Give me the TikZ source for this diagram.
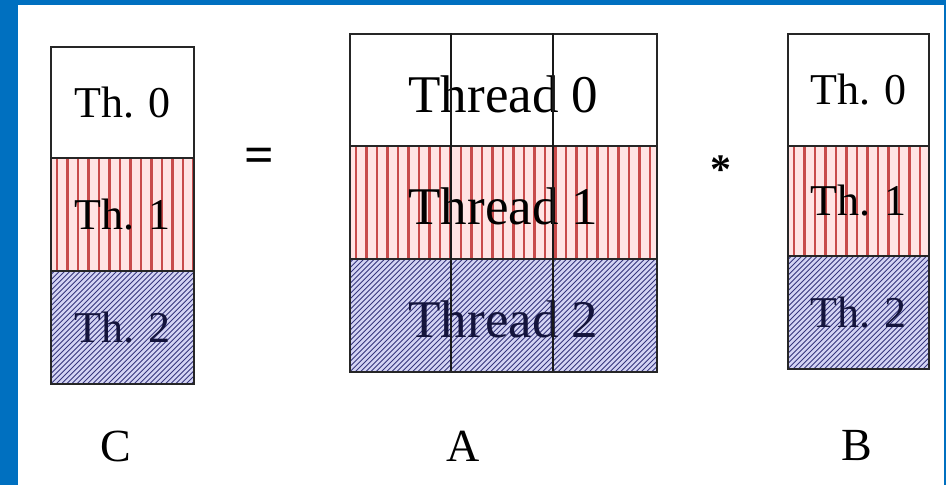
\documentclass[tikz,border=0pt]{standalone}
\usepackage{fontspec}
\setmainfont{Liberation Serif}
\definecolor{frameblue}{RGB}{0,112,192}
\definecolor{pinkbg}{RGB}{255,228,228}
\definecolor{redline}{RGB}{200,75,75}
\definecolor{bluebg}{RGB}{212,212,244}
\definecolor{navyline}{RGB}{55,55,125}
\definecolor{navytext}{RGB}{20,20,60}
\tikzset{
  cell/.style={draw=black!85, line width=1.8pt, inner sep=0pt, anchor=north west},
  stripes/.style={fill=pinkbg, path picture={
      \foreach \k in {0,...,32}{
        \draw[redline, line width=2.2pt]
          ([xshift=\k*10.5pt+6pt]path picture bounding box.south west) --
          ([xshift=\k*10.5pt+6pt]path picture bounding box.north west);}}},
  hatch/.style={fill=bluebg, path picture={
      \foreach \k in {0,...,100}{
        \draw[navyline, line width=0.9pt]
          ([xshift=\k*5.2pt-130pt]path picture bounding box.south west) -- ++(130pt,130pt);}}},
  smalltxt/.style={font=\fontsize{44}{50}\selectfont},
  bigtxt/.style={font=\fontsize{53}{60}\selectfont, yshift=-4pt},
  lbl/.style={font=\fontsize{46}{52}\selectfont},
  divider/.style={draw=black!90, line width=2.2pt}
}
\begin{document}
\begin{tikzpicture}[x=1pt,y=-1pt]
\useasboundingbox (0,0) rectangle (946,485);
\fill[white] (0,0) rectangle (946,485);
\fill[frameblue] (0,0) rectangle (18,485);
\fill[frameblue] (0,0) rectangle (946,5);
\fill[frameblue] (944,0) rectangle (946,485);

% Matrix C
\node[cell, minimum width=143pt, minimum height=111pt] (c0) at (50,46) {};
\node[cell, stripes, minimum width=143pt, minimum height=113pt] (c1) at (50,157) {};
\node[cell, hatch, minimum width=143pt, minimum height=113pt] (c2) at (50,270) {};
\node[smalltxt] (tc0) at (c0.center) {Th. 0};
\node[smalltxt] (tc1) at (c1.center) {Th. 1};
\node[smalltxt, text=navytext] (tc2) at (c2.center) {Th. 2};

% Matrix A
\node[cell, minimum width=307pt, minimum height=112pt] (a0) at (349,33) {};
\node[cell, stripes, minimum width=307pt, minimum height=113pt] (a1) at (349,145) {};
\node[cell, hatch, minimum width=307pt, minimum height=113pt] (a2) at (349,258) {};
\node[bigtxt] (ta0) at (a0.center) {Thread 0};
\node[bigtxt] (ta1) at (a1.center) {Thread 1};
\node[bigtxt, text=navytext] (ta2) at (a2.center) {Thread 2};
\coordinate (d1t) at (451,33);
\coordinate (d1b) at (451,371);
\coordinate (d2t) at (553,33);
\coordinate (d2b) at (553,371);
\draw[divider] (d1t) -- (d1b);
\draw[divider] (d2t) -- (d2b);

% Matrix B
\node[cell, minimum width=141pt, minimum height=112pt] (b0) at (787,33) {};
\node[cell, stripes, minimum width=141pt, minimum height=110pt] (b1) at (787,145) {};
\node[cell, hatch, minimum width=141pt, minimum height=113pt] (b2) at (787,255) {};
\node[smalltxt] (tb0) at (b0.center) {Th. 0};
\node[smalltxt] (tb1) at (b1.center) {Th. 1};
\node[smalltxt, text=navytext] (tb2) at (b2.center) {Th. 2};

% operators
\node[font=\fontsize{52}{58}\selectfont\bfseries] (eq) at (259,160) {=};
\node[font=\fontsize{42}{48}\selectfont\bfseries] (star) at (721,170) {*};

% labels
\node[lbl] (lc) at (116,446) {C};
\node[lbl] (la) at (463,446) {A};
\node[lbl] (lb) at (857,446) {B};
\end{tikzpicture}
\end{document}
